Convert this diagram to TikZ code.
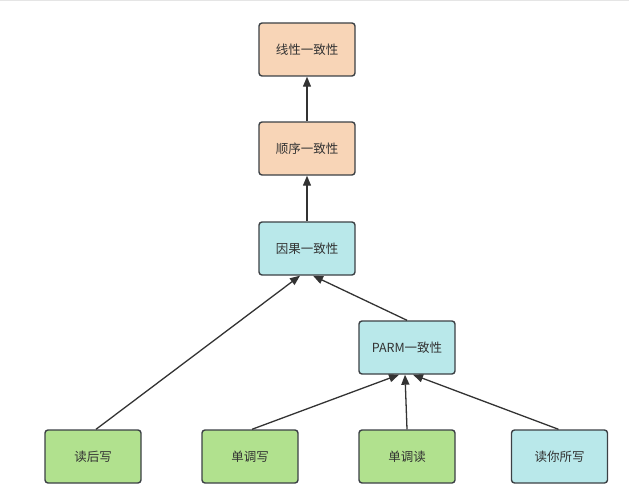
\documentclass[tikz,border=0pt]{standalone}
\usepackage{fontspec}
\setmainfont{Noto Sans CJK SC}
\usetikzlibrary{arrows.meta}
\definecolor{peach}{HTML}{F8D5B7}
\definecolor{aqua}{HTML}{B9E8EA}
\definecolor{lime}{HTML}{B1E18E}
\definecolor{edge}{HTML}{3C4145}
\definecolor{ink}{HTML}{333333}
\tikzset{
  box/.style={draw=edge, line width=1.4pt, rounded corners=3pt, minimum width=96pt,
    minimum height=53pt, inner sep=0pt, text=ink, font=\fontsize{12.5}{15}\selectfont},
  arr/.style={draw=ink, line width=1.3pt, -{Triangle[length=10pt,width=8pt]}}
}
\begin{document}
\begin{tikzpicture}[x=1pt,y=-1pt]
\useasboundingbox (0,0) rectangle (629,503);
\draw[gray!20, line width=1pt] (0,0.5) -- (629,0.5);
\node[box, fill=peach] (lin) at (307,49.5) {线性一致性};
\node[box, fill=peach] (seq) at (307,148.5) {顺序一致性};
\node[box, fill=aqua] (cau) at (307,248.5) {因果一致性};
\node[box, fill=aqua] (parm) at (407,347.5) {PARM一致性};
\node[box, fill=lime] (rw) at (93,456.5) {读后写};
\node[box, fill=lime] (mw) at (250,456.5) {单调写};
\node[box, fill=lime] (mr) at (407,456.5) {单调读};
\node[box, fill=aqua] (ryw) at (559.5,456.5) {读你所写};
\draw[arr] (seq.north) -- (lin.south);
\draw[arr] (cau.north) -- (seq.south);
\draw[arr] ([xshift=3pt]rw.north) -- ([xshift=-7pt]cau.south);
\draw[arr] (parm.north) -- ([xshift=6pt]cau.south);
\draw[arr] ([xshift=2pt]mw.north) -- ([xshift=-8pt]parm.south);
\draw[arr] (mr.north) -- ([xshift=-2pt]parm.south);
\draw[arr] ([xshift=-1pt]ryw.north) -- ([xshift=6pt]parm.south);
\end{tikzpicture}
\end{document}
